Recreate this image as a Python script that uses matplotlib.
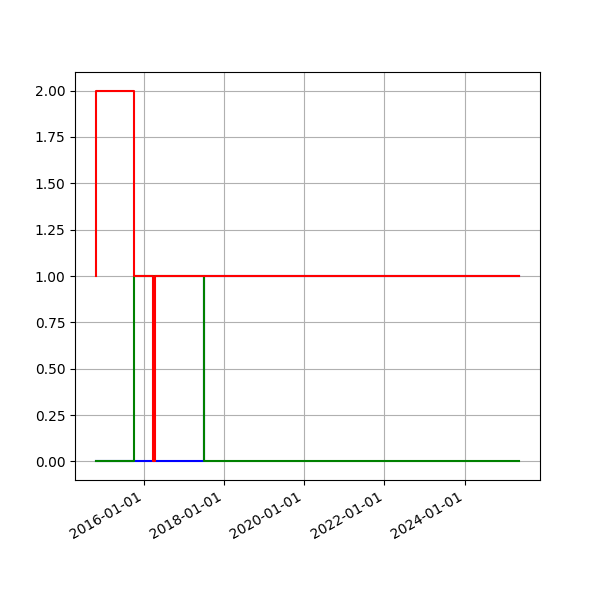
import matplotlib
matplotlib.use("Agg")
import matplotlib.pyplot as plt
import matplotlib.dates as mdates
import pandas as pd

blue_dates = ["2014-10-25", "2017-07-01", "2025-05-09"]
blue_values = [0, 1, 1]

green_dates = ["2014-10-25", "2015-10-01", "2017-07-03", "2025-05-09"]
green_values = [0, 1, 0, 0]

red_dates = ["2014-10-25", "2014-10-28", "2015-10-02", "2016-03-30", "2016-04-11", "2025-05-09"]
red_values = [1, 2, 1, 0, 1, 1]

fig, ax = plt.subplots(figsize=(6, 6), dpi=100)
ax.step(pd.to_datetime(blue_dates), blue_values, where="post", color="blue")
ax.step(pd.to_datetime(green_dates), green_values, where="post", color="green")
ax.step(pd.to_datetime(red_dates), red_values, where="post", color="red")

ax.xaxis.set_major_locator(mdates.YearLocator(2))
ax.xaxis.set_major_formatter(mdates.DateFormatter("%Y-%m-%d"))
ax.grid(True)
fig.autofmt_xdate()
fig.savefig("out.png")
